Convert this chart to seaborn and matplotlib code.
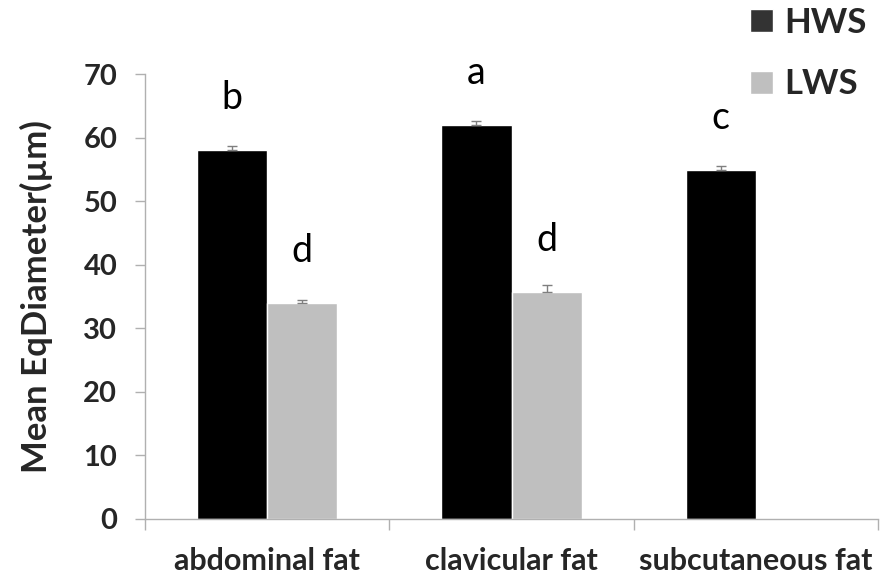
import numpy as np
import pandas as pd
import matplotlib
matplotlib.use("Agg")
import matplotlib.pyplot as plt
import seaborn as sns
from matplotlib.patches import Patch

# data
sites = ["abdominal fat", "clavicular fat", "subcutaneous fat"]
groups = ["HWS", "LWS"]
hws_mean = [58.0, 61.9, 54.9]
lws_mean = [34.0, 35.7, np.nan]
hws_err = [0.7, 0.65, 0.7]
lws_err = [0.45, 1.1, np.nan]
hws_letters = ["b", "a", "c"]
lws_letters = ["d", "d", ""]

df = pd.DataFrame({
    "site": sites * 2,
    "group": ["HWS"] * 3 + ["LWS"] * 3,
    "mean": hws_mean + lws_mean,
    "err": hws_err + lws_err,
    "letter": hws_letters + lws_letters,
})

sns.set_theme(style="white")
plt.rcParams["font.family"] = ["Lato", "DejaVu Sans"]

fig = plt.figure(figsize=(8.81, 5.8), dpi=100)
ax = fig.add_axes([0.1646, 0.1052, 0.8320, 0.7672])

colors = {"HWS": "#000000", "LWS": "#bfbfbf"}
sns.barplot(data=df, x="site", y="mean", hue="group", order=sites,
            hue_order=groups, palette=colors, width=0.574, saturation=1,
            errorbar=None, legend=False, ax=ax)

# error bars (upper only) and significance letters
for g, cont in zip(groups, ax.containers):
    sub = df[df["group"] == g].set_index("site")
    for bar in cont:
        h = bar.get_height()
        if np.isnan(h):
            continue
        cx = bar.get_x() + bar.get_width() / 2
        site = sites[int(round(cx))]
        err = sub.loc[site, "err"]
        ax.errorbar(cx, h, yerr=[[0], [err]], fmt="none", ecolor="#7f7f7f",
                    elinewidth=1, capsize=3.5, capthick=1)
        ax.text(cx, h + 6.5, sub.loc[site, "letter"], ha="center",
                va="baseline", fontsize=27, color="black")

ax.set_xlim(-0.5, 2.5)
ax.set_ylim(0, 70)
ax.set_yticks(range(0, 71, 10))
ax.set_xticks(range(len(sites)))
ax.set_xticks([-0.5, 0.5, 1.5, 2.5], minor=True)
ax.set_xticklabels(sites, fontsize=22, fontweight="bold")
for lab in ax.get_yticklabels():
    lab.set_fontsize(21)
    lab.set_fontweight("bold")
ax.set_xlabel("")
ax.set_ylabel("Mean EqDiameter(µm)", fontsize=25, fontweight="bold", labelpad=22)

for s in ["top", "right"]:
    ax.spines[s].set_visible(False)
for s in ["left", "bottom"]:
    ax.spines[s].set_color("#b0b0b0")
    ax.spines[s].set_linewidth(1)
ax.tick_params(axis="y", which="major", left=True, length=7, width=1,
               color="#b0b0b0", pad=13)
ax.tick_params(axis="x", which="major", bottom=False, length=0, pad=20)
ax.tick_params(axis="x", which="minor", bottom=True, length=8, width=1,
               color="#b0b0b0")

handles = [Patch(facecolor="#333333", label="HWS"),
           Patch(facecolor="#bfbfbf", label="LWS")]
fig.legend(handles=handles, loc="upper right", bbox_to_anchor=(1.0, 1.012),
           frameon=False, prop={"size": 25, "weight": "bold"},
           handlelength=0.65, handleheight=0.65, handletextpad=0.35,
           labelspacing=0.85, borderaxespad=0.0)

fig.savefig("out.png", dpi=100)
